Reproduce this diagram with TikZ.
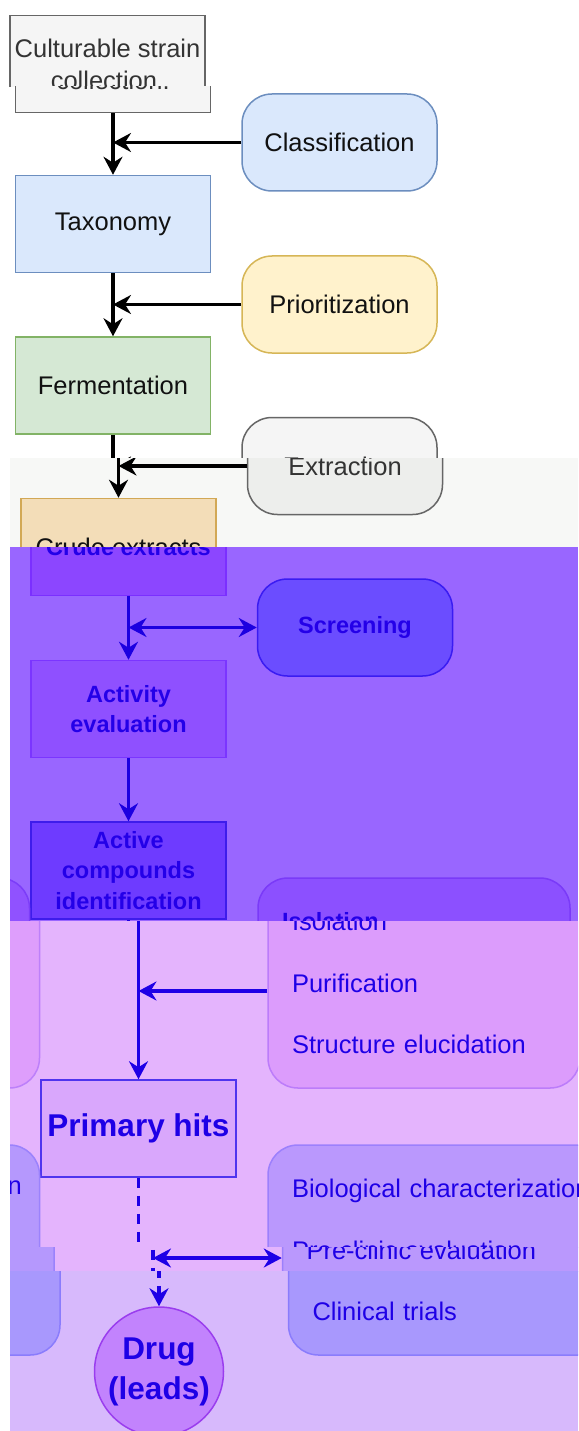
\documentclass[tikz,border=0pt]{standalone}
\usepackage{fontspec}
\setmainfont{Liberation Sans}
\usetikzlibrary{arrows.meta}
% ---------- fonts (redefined locally per band) ----------
\newcommand\bandfont{\fontsize{25.5}{32}\selectfont}
\newcommand\widefont{\fontsize{25.5}{61.5}\selectfont}
\newcommand\bigfont{\fontsize{31.5}{40}\selectfont\bfseries}
% text is only set in the bands where it can be seen
\def\bandtop{0}\def\bandbot{1431}
\newcommand\T[3]{\ifdim#2pt>\bandtop pt\relax\ifdim#1pt<\bandbot pt\relax#3\else\vphantom{#3}\fi\else\vphantom{#3}\fi}
% ---------- default colours (top band, original) ----------
\definecolor{txt}{HTML}{111111}
\definecolor{arrC}{HTML}{000000}
\definecolor{cultF}{HTML}{F5F5F5}\definecolor{cultD}{HTML}{666666}\definecolor{cultT}{HTML}{333333}
\definecolor{taxF}{HTML}{DAE8FC}\definecolor{taxD}{HTML}{6C8EBF}
\definecolor{prioF}{HTML}{FFF2CC}\definecolor{prioD}{HTML}{D6B656}
\definecolor{ferF}{HTML}{D5E8D4}\definecolor{ferD}{HTML}{82B366}
\definecolor{extF}{HTML}{F5F5F5}\definecolor{extD}{HTML}{666666}
\definecolor{cruF}{HTML}{F3DDB8}\definecolor{cruD}{HTML}{D2A855}
\definecolor{scrF}{HTML}{F5F5F5}\definecolor{scrD}{HTML}{666666}
\definecolor{actF}{HTML}{F5F5F5}\definecolor{actD}{HTML}{666666}
\definecolor{acvF}{HTML}{F5F5F5}\definecolor{acvD}{HTML}{666666}
\definecolor{isoF}{HTML}{F5F5F5}\definecolor{isoD}{HTML}{666666}
\definecolor{prmF}{HTML}{F5F5F5}\definecolor{prmD}{HTML}{666666}
\definecolor{bioF}{HTML}{F5F5F5}\definecolor{bioD}{HTML}{666666}
\definecolor{drgF}{HTML}{F5F5F5}\definecolor{drgD}{HTML}{666666}
\definecolor{lbF}{HTML}{F5F5F5}\definecolor{lbD}{HTML}{666666}
\definecolor{lcF}{HTML}{F5F5F5}\definecolor{lcD}{HTML}{666666}
\tikzset{
  sq/.style={rectangle, minimum width=195pt, minimum height=97pt, line width=1.5pt,
             align=center, font=\bandfont, text=txt, inner sep=2pt},
  rb/.style={sq, rounded corners=30pt},
  bigbox/.style={rectangle, rounded corners=30pt, line width=1.5pt, minimum height=210pt,
             text width=#1, inner xsep=24pt, inner ysep=0pt, align=left, font=\widefont, text=txt},
  arr/.style={draw=arrC, line width=3.2pt, -{Stealth[length=18pt,width=19pt,inset=6pt]}},
  darr/.style={draw=arrC, line width=3.2pt,
             {Stealth[length=18pt,width=19pt,inset=6pt]}-{Stealth[length=18pt,width=19pt,inset=6pt]}},
  dasharr/.style={arr, dash pattern=on 10pt off 8pt},
}
% ---------- the whole flow chart ----------
\newcommand\flowchart{%
  \node[sq, fill=cultF, draw=cultD, text=cultT] (cult) at (113,64)
        {\T{30}{63}{Culturable strain}\\\T{63}{95}{collection.}};
  \node[sq, fill=taxF, draw=taxD] (taxo) at (113,224) {\T{208}{240}{Taxonomy}};
  \node[sq, fill=ferF, draw=ferD] (ferm) at (113,385.5) {\T{370}{402}{Fermentation}};
  \node[sq, fill=cruF, draw=cruD] (crude) at (113,547) {\T{531}{563}{Crude extracts}};
  \node[sq, fill=actF, draw=actD] (activ) at (113,709)
        {\T{678}{710}{Activity}\\\T{708}{742}{evaluation}};
  \node[sq, fill=acvF, draw=acvD] (activecmp) at (113,870.5)
        {\T{823}{856}{Active}\\\T{854}{887}{compounds}\\\T{885}{918}{identification}};
  \node[sq, fill=prmF, draw=prmD, font=\bigfont] (primary) at (113,1128.5) {\T{1110}{1148}{Primary hits}};
  \node[circle, minimum size=129pt, inner sep=0pt, line width=1.5pt, fill=drgF, draw=drgD,
        align=center, text=txt, font=\bigfont] (drug) at (113,1371.5)
        {\T{1333}{1372}{Drug}\\\T{1372}{1412}{(leads)}};
  \node[rb, fill=taxF, draw=taxD] (classif) at (339.5,142.5) {\T{127}{158}{Classification}};
  \node[rb, fill=prioF, draw=prioD] (prior) at (339.5,304.5) {\T{289}{320}{Prioritization}};
  \node[rb, fill=extF, draw=extD, text=cultT] (extr) at (339.5,466) {\T{450}{482}{Extraction}};
  \node[rb, fill=scrF, draw=scrD] (screen) at (339.5,627.5) {\T{612}{643}{Screening}};
  \node[bigbox=264pt, fill=isoF, draw=isoD] (iso) at (398.5,983)
        {\T{906}{938}{Isolation}\\\T{968}{999}{Purification}\\\T{1029}{1061}{Structure elucidation}};
  \node[bigbox=302pt, fill=bioF, draw=bioD] (bio) at (417.5,1250)
        {\T{1173}{1204}{Biological characterization}\\\T{1235}{1266}{Pre-clinic evaluation}\\\T{1296}{1328}{Clinical trials}};
  \node[bigbox=262pt, fill=lbF, draw=lbD] (leftbox) at (-141,983) {};
  \node[bigbox=262pt, fill=lcF, draw=lcD] (leftbox2) at (-141,1250) {};
  \node[anchor=east, inner sep=0pt, font=\widefont, text=txt] (lefttxt) at (-3.5,1188) {\T{1175}{1200}{n}};
  % connectors
  \draw[arr] (cult.south) -- (taxo.north);
  \draw[arr] (classif.west) -- (classif.west -| cult.south);
  \draw[arr] (taxo.south) -- (ferm.north);
  \draw[arr] (prior.west) -- (prior.west -| taxo.south);
  \draw[arr] (ferm.south) -- (crude.north);
  \draw[arr] (extr.west) -- (extr.west -| ferm.south);
  \draw[arr] (crude.south) -- (activ.north);
  \draw[darr] (screen.west -| crude.south) -- (screen.west);
  \draw[arr] (activ.south) -- (activecmp.north);
  \draw[arr] (activecmp.south) -- (primary.north);
  \draw[arr] ([yshift=-8pt]iso.west) -- ([yshift=-8pt]iso.west -| activecmp.south);
  \draw[dasharr] (primary.south) -- (drug.north);
  \draw[darr] ([yshift=-8pt]bio.west -| primary.south) -- ([yshift=-8pt]bio.west);
}
% one horizontal band of the picture: clip box, background, x shift
\newcommand\band[6]{% x0 y0 x1 y1 bg shift
  \begin{scope}
    \def\bandtop{#2}\def\bandbot{#4}%
    \clip (#1,#2) rectangle (#3,#4);
    \fill[#5] (#1,#2) rectangle (#3,#4);
    \begin{scope}[xshift=#6pt]
      \flowchart
    \end{scope}
  \end{scope}}
\begin{document}
\begin{tikzpicture}[x=1pt, y=-1pt]
  \useasboundingbox (0,0) rectangle (578,1431);
  \fill[white] (0,0) rectangle (578,1431);
  % --- original colours ---
  \begin{scope}
    \band{0}{0}{578}{87}{white}{-5.5}
  \end{scope}
  \band{0}{87}{578}{458}{white}{0}
  \begin{scope}
    \definecolor{extF}{HTML}{EDEEEC}
    \definecolor{bgB}{HTML}{F7F8F6}
    \band{10}{458}{578}{547}{bgB}{5.5}
  \end{scope}
  % --- purple band ---
  \begin{scope}
    \renewcommand\bandfont{\fontsize{23.5}{30.5}\selectfont\bfseries}
    \renewcommand\widefont{\fontsize{23.5}{61.5}\selectfont\bfseries}
    \definecolor{bgP}{HTML}{9966FF}
    \definecolor{txt}{HTML}{2400E8}\definecolor{arrC}{HTML}{1C00E0}
    \definecolor{cruF}{HTML}{8C46FF}\definecolor{cruD}{HTML}{7B2FFF}
    \definecolor{scrF}{HTML}{6B4DFF}\definecolor{scrD}{HTML}{3A1CF2}
    \definecolor{actF}{HTML}{8F50FF}\definecolor{actD}{HTML}{7B35FF}
    \definecolor{acvF}{HTML}{6E3BFF}\definecolor{acvD}{HTML}{3E1CEB}
    \definecolor{isoF}{HTML}{8C50FF}\definecolor{isoD}{HTML}{7A3AF8}
    \definecolor{lbF}{HTML}{9052FF}\definecolor{lbD}{HTML}{7C3DF8}
    \band{10}{547}{578}{921}{bgP}{15.5}
  \end{scope}
  % --- pink band and thin strip ---
  \begin{scope}
    \definecolor{bgK}{HTML}{E4B4FD}
    \definecolor{txt}{HTML}{1E00E6}\definecolor{arrC}{HTML}{1E00E6}
    \definecolor{isoF}{HTML}{DC9CFC}\definecolor{isoD}{HTML}{BC7CFA}
    \definecolor{prmF}{HTML}{D9A7FC}\definecolor{prmD}{HTML}{4F34EE}
    \definecolor{bioF}{HTML}{BA98FD}\definecolor{bioD}{HTML}{9C80FC}
    \definecolor{lbF}{HTML}{DE9EFC}\definecolor{lbD}{HTML}{BD80FA}
    \definecolor{lcF}{HTML}{B598FD}\definecolor{lcD}{HTML}{9B82FC}
    \band{10}{921}{578}{1247}{bgK}{25.5}
    \band{10}{1247}{578}{1271}{bgK}{40}
  \end{scope}
  % --- lower lavender band ---
  \begin{scope}
    \definecolor{bgL}{HTML}{D7B9FC}
    \definecolor{txt}{HTML}{1E00E6}\definecolor{arrC}{HTML}{1E00E6}
    \definecolor{bioF}{HTML}{A898FD}\definecolor{bioD}{HTML}{8A7CFC}
    \definecolor{drgF}{HTML}{C283FD}\definecolor{drgD}{HTML}{9A3DEE}
    \definecolor{lcF}{HTML}{A898FD}\definecolor{lcD}{HTML}{8A7CFC}
    \band{10}{1271}{578}{1431}{bgL}{46}
  \end{scope}
\end{tikzpicture}
\end{document}
